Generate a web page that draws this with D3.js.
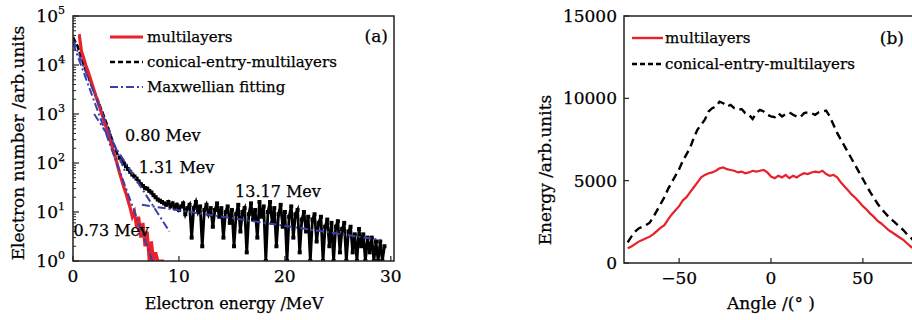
<!DOCTYPE html>
<html>
<head>
<meta charset="utf-8">
<script src="https://cdn.jsdelivr.net/npm/d3@7"></script>
<style>
body { margin: 0; background: #ffffff; overflow: hidden; }
svg { font-family: "DejaVu Serif", serif; }
svg text { stroke: #000; stroke-width: 0.25px; }
</style>
</head>
<body>
<script>
//Data for panel (a): electron spectra, 0.2 MeV bins
var binStep = 0.2;
var conicalStart = 0;
var conicalCounts = [37000, 30000, 25000, 19000, 14000, 10500, 8000, 6200, 4900, 3800,
	2900, 2250, 1750, 1350, 1050, 800, 610, 460, 340, 250,
	190, 150, 128, 112, 98, 86, 75, 66, 58, 53,
	48, 42, 37, 34, 31, 30, 27, 25, 22, 20,
	18, 17, 16, 15, 14, 16, 13, 15, 12, 14,
	11, 13, 15, 9, 12, 14, 3, 12, 16, 10,
	13, 2, 11, 14, 9, 12, 5, 11, 15, 8,
	12, 3, 10, 13, 6, 11, 2, 9, 14, 4,
	10, 12, 1.5, 9, 15, 7, 11, 3, 16, 8,
	13, 1, 10, 16, 6, 12, 2, 9, 14, 5,
	10, 1, 8, 13, 3, 9, 11, 1.5, 7, 10,
	4, 8, 1, 7, 9, 2.5, 6, 8, 1, 5,
	7, 2, 6, 1, 5, 6.5, 1.5, 4.5, 6, 1,
	4, 5, 1.5, 3.5, 1, 4.5, 2, 3.5, 1, 3,
	1.5, 3, 1, 2.5, 1, 2.5, 1, 2];
var markerFrom = 4.4;
var multiStart = 0.6;
var multiCounts = [40000, 19000, 14000, 10000, 7600, 5600, 4100, 3000, 2200, 1650,
	1200, 900, 650, 480, 350, 250, 180, 130, 90, 62,
	45, 32, 24, 17, 12, 8, 10, 5, 8, 3,
	6, 2, 4, 1, 2.5, 1, 1.5, 1, 1, 1, 1];

//Maxwellian fitting lines [energy, counts] end points
var fitLines = [
	[[0, 28000], [7.5, 1]],
	[[0, 33000], [5.0, 60]],
	[[2.0, 1000], [9.1, 4]],
	[[6.5, 14], [29, 2.7]]
];
var fitLabels = [
	{ text: "0.80 Mev", e: 4.9, n: 280 },
	{ text: "1.31 Mev", e: 6.2, n: 62 },
	{ text: "13.17 Mev", e: 15.3, n: 20 },
	{ text: "0.73 Mev", e: 0.05, n: 3.2 }
];
var logTicks = [1, 10, 100, 1000, 10000, 100000];
var energyTicks = [0, 10, 20, 30];

//Data for panel (b): energy vs angle, 2 degree steps
var angleStart = -78;
var angleStep = 2;
var multiEnergy = [900, 1000, 1150, 1300, 1400, 1500, 1600, 1750, 1950, 2150,
	2300, 2650, 2950, 3200, 3450, 3800, 4000, 4300, 4600, 4900,
	5200, 5350, 5450, 5500, 5600, 5750, 5800, 5700, 5650, 5600,
	5500, 5550, 5450, 5500, 5600, 5550, 5600, 5650, 5500, 5250,
	5150, 5300, 5200, 5350, 5150, 5300, 5200, 5350, 5450, 5400,
	5500, 5550, 5500, 5600, 5400, 5300, 5350, 5200, 4900, 4650,
	4400, 4150, 3950, 3700, 3450, 3250, 3000, 2800, 2550, 2400,
	2200, 2000, 1850, 1700, 1550, 1400, 1200, 1000, 850, 700];
var conicalEnergy = [1250, 1600, 1900, 2100, 2200, 2300, 2450, 2800, 3200, 3600,
	4000, 4500, 4900, 5300, 5700, 6200, 6600, 7000, 7600, 8100,
	8400, 8700, 9200, 9400, 9500, 9800, 9700, 9500, 9600, 9400,
	9300, 9350, 9100, 9000, 8750, 9100, 9300, 9200, 9000, 8900,
	8850, 9100, 8900, 9050, 9150, 9000, 8900, 8850, 9100, 9150,
	9100, 9000, 9150, 9200, 9250, 8900, 8400, 7900, 7500, 7100,
	6700, 6300, 5900, 5500, 5100, 4700, 4300, 3950, 3600, 3300,
	3050, 2800, 2600, 2400, 2200, 2000, 1750, 1550, 1300, 1100];
var angleTicks = [-50, 0, 50];
var energyTicksB = [0, 5000, 10000, 15000];

var red = "#e8212b";
var blue = "#3c3fa8";
var frame = "#222222";
var ink = "#000";

var w = 912, h = 320;
var svg = d3.select("body")
	.append("svg")
	.attr("width", w)
	.attr("height", h);

var defs = svg.append("defs");

//---------------- Panel (a) ----------------
var xA = d3.scaleLinear().domain([0, 30.3]).range([73, 394]);
var yA = d3.scaleLog().domain([1, 100000]).range([261, 16]);

defs.append("clipPath").attr("id", "clipA")
	.append("rect")
	.attr("x", xA.range()[0]).attr("y", yA.range()[1])
	.attr("width", xA.range()[1] - xA.range()[0])
	.attr("height", yA.range()[0] - yA.range()[1]);

var pa = svg.append("g");

var lineA = d3.line()
	.x(function(d) { return xA(d[0]); })
	.y(function(d) { return yA(Math.max(d[1], 1)); });

var conicalPts = conicalCounts.map(function(v, i) { return [conicalStart + i * binStep, v]; });
var conicalHead = conicalPts.filter(function(d) { return d[0] <= markerFrom + 0.01; });
var conicalTail = conicalPts.filter(function(d) { return d[0] >= markerFrom - 0.01; });
var multiPts = [[0.5, 40000]].concat(multiCounts.map(function(v, i) { return [multiStart + i * binStep, v]; }));

var plotA = pa.append("g").attr("clip-path", "url(#clipA)");

//black data: dashed steep part, thick solid noisy tail with square markers
plotA.append("path")
	.datum(conicalHead)
	.attr("d", lineA)
	.attr("fill", "none")
	.attr("stroke", "#000")
	.attr("stroke-width", 2.6)
	.attr("stroke-dasharray", "6,2");

plotA.append("path")
	.datum(conicalTail)
	.attr("d", lineA)
	.attr("fill", "none")
	.attr("stroke", "#000")
	.attr("stroke-width", 2.8);

plotA.selectAll(".mk")
	.data(conicalTail)
	.enter()
	.append("rect")
	.attr("x", function(d) { return xA(d[0]) - 2; })
	.attr("y", function(d) { return yA(Math.max(d[1], 1)) - 2; })
	.attr("width", 4)
	.attr("height", 4)
	.attr("fill", "#000");

plotA.append("path")
	.datum(multiPts)
	.attr("d", lineA)
	.attr("fill", "none")
	.attr("stroke", red)
	.attr("stroke-width", 3.2);

plotA.selectAll(".fit")
	.data(fitLines)
	.enter()
	.append("path")
	.attr("class", "fit")
	.attr("d", lineA)
	.attr("fill", "none")
	.attr("stroke", blue)
	.attr("stroke-width", 2)
	.attr("stroke-dasharray", "8,3,2,3");

//frame
pa.append("rect")
	.attr("x", xA.range()[0]).attr("y", yA.range()[1])
	.attr("width", xA.range()[1] - xA.range()[0])
	.attr("height", yA.range()[0] - yA.range()[1])
	.attr("fill", "none")
	.attr("stroke", frame)
	.attr("stroke-width", 1.5);

//y ticks (major and minor, inward)
var minorA = [];
for (var d = 1; d < 100000; d *= 10) {
	for (var m = 2; m < 10; m++) minorA.push(d * m);
}
pa.selectAll(".minorA")
	.data(minorA)
	.enter()
	.append("line")
	.attr("x1", xA.range()[0]).attr("x2", xA.range()[0] + 3)
	.attr("y1", function(d) { return yA(d); })
	.attr("y2", function(d) { return yA(d); })
	.attr("stroke", frame)
	.attr("stroke-width", 1);

pa.selectAll(".majorA")
	.data(logTicks)
	.enter()
	.append("line")
	.attr("x1", xA.range()[0]).attr("x2", xA.range()[0] + 6)
	.attr("y1", function(d) { return yA(d); })
	.attr("y2", function(d) { return yA(d); })
	.attr("stroke", frame)
	.attr("stroke-width", 1.2);

var yLab = pa.selectAll(".ylabA")
	.data(logTicks)
	.enter()
	.append("text")
	.attr("x", 65)
	.attr("y", function(d) { return yA(d) + 6; })
	.attr("text-anchor", "end")
	.style("font-size", "17px")
	.attr("fill", ink);
yLab.append("tspan").text("10");
yLab.append("tspan")
	.attr("dy", -8)
	.style("font-size", "11px")
	.text(function(d) { return Math.round(Math.log10(d)); });

//x ticks
pa.selectAll(".xtA")
	.data(energyTicks)
	.enter()
	.append("line")
	.attr("x1", function(d) { return xA(d); })
	.attr("x2", function(d) { return xA(d); })
	.attr("y1", yA.range()[0]).attr("y2", yA.range()[0] - 5)
	.attr("stroke", frame)
	.attr("stroke-width", 1.2);

pa.selectAll(".xlabA")
	.data(energyTicks)
	.enter()
	.append("text")
	.attr("x", function(d) { return xA(d); })
	.attr("y", 282)
	.attr("text-anchor", "middle")
	.style("font-size", "17px")
	.attr("fill", ink)
	.text(function(d) { return d; });

//axis titles
pa.append("text")
	.attr("x", 234).attr("y", 309)
	.attr("text-anchor", "middle")
	.style("font-size", "16px")
	.attr("fill", ink)
	.text("Electron energy /MeV");

pa.append("text")
	.attr("transform", "translate(24,143) rotate(-90)")
	.attr("text-anchor", "middle")
	.style("font-size", "17px")
	.attr("fill", ink)
	.text("Electron number /arb.units");

//fit labels
pa.selectAll(".fitlab")
	.data(fitLabels)
	.enter()
	.append("text")
	.attr("x", function(d) { return xA(d.e); })
	.attr("y", function(d) { return yA(d.n); })
	.style("font-size", "16px")
	.attr("fill", ink)
	.text(function(d) { return d.text; });

pa.append("text")
	.attr("x", 388).attr("y", 42)
	.attr("text-anchor", "end")
	.style("font-size", "17px")
	.attr("fill", ink)
	.text("(a)");

//legend (a)
var legA = [
	{ name: "multilayers", color: red, dash: null, width: 3 },
	{ name: "conical-entry-multilayers", color: "#000", dash: "5,3", width: 2.5 },
	{ name: "Maxwellian fitting", color: blue, dash: "8,3,2,3", width: 1.8 }
];
var lgA = pa.selectAll(".legA")
	.data(legA)
	.enter()
	.append("g")
	.attr("transform", function(d, i) { return "translate(110," + (37 + i * 25) + ")"; });
lgA.append("line")
	.attr("x1", 0).attr("x2", 33)
	.attr("stroke", function(d) { return d.color; })
	.attr("stroke-width", function(d) { return d.width; })
	.attr("stroke-dasharray", function(d) { return d.dash; });
lgA.append("text")
	.attr("x", 37).attr("y", 5)
	.style("font-size", "15px")
	.attr("fill", ink)
	.text(function(d) { return d.name; });

//---------------- Panel (b) ----------------
var xB = d3.scaleLinear().domain([-80, 80]).range([624, 918]);
var yB = d3.scaleLinear().domain([0, 15000]).range([263, 16]);

defs.append("clipPath").attr("id", "clipB")
	.append("rect")
	.attr("x", xB.range()[0]).attr("y", yB.range()[1])
	.attr("width", xB.range()[1] - xB.range()[0])
	.attr("height", yB.range()[0] - yB.range()[1]);

var pb = svg.append("g");

var lineB = d3.line()
	.x(function(d) { return xB(d[0]); })
	.y(function(d) { return yB(d[1]); });

var plotB = pb.append("g").attr("clip-path", "url(#clipB)");

plotB.append("path")
	.datum(conicalEnergy.map(function(v, i) { return [angleStart + i * angleStep, v]; }))
	.attr("d", lineB)
	.attr("fill", "none")
	.attr("stroke", "#000")
	.attr("stroke-width", 2.4)
	.attr("stroke-dasharray", "8,5");

plotB.append("path")
	.datum(multiEnergy.map(function(v, i) { return [angleStart + i * angleStep, v]; }))
	.attr("d", lineB)
	.attr("fill", "none")
	.attr("stroke", red)
	.attr("stroke-width", 2.2);

pb.append("rect")
	.attr("x", xB.range()[0]).attr("y", yB.range()[1])
	.attr("width", xB.range()[1] - xB.range()[0])
	.attr("height", yB.range()[0] - yB.range()[1])
	.attr("fill", "none")
	.attr("stroke", frame)
	.attr("stroke-width", 1.5);

pb.selectAll(".ytB")
	.data(energyTicksB)
	.enter()
	.append("line")
	.attr("x1", xB.range()[0]).attr("x2", xB.range()[0] + 5)
	.attr("y1", function(d) { return yB(d); })
	.attr("y2", function(d) { return yB(d); })
	.attr("stroke", frame)
	.attr("stroke-width", 1.2);

pb.selectAll(".ylabB")
	.data(energyTicksB)
	.enter()
	.append("text")
	.attr("x", 617)
	.attr("y", function(d) { return yB(d) + 6; })
	.attr("text-anchor", "end")
	.style("font-size", "17px")
	.attr("fill", ink)
	.text(function(d) { return d; });

pb.selectAll(".xtB")
	.data(angleTicks)
	.enter()
	.append("line")
	.attr("x1", function(d) { return xB(d); })
	.attr("x2", function(d) { return xB(d); })
	.attr("y1", yB.range()[0]).attr("y2", yB.range()[0] - 5)
	.attr("stroke", frame)
	.attr("stroke-width", 1.2);

pb.selectAll(".xlabB")
	.data(angleTicks)
	.enter()
	.append("text")
	.attr("x", function(d) { return xB(d); })
	.attr("y", 284)
	.attr("text-anchor", "middle")
	.style("font-size", "17px")
	.attr("fill", ink)
	.text(function(d) { return d < 0 ? "\u2212" + Math.abs(d) : d; });

pb.append("text")
	.attr("x", 771).attr("y", 309)
	.attr("text-anchor", "middle")
	.style("font-size", "17px")
	.attr("fill", ink)
	.text("Angle /(\u00b0 )");

pb.append("text")
	.attr("transform", "translate(551,170) rotate(-90)")
	.attr("text-anchor", "middle")
	.style("font-size", "17px")
	.attr("fill", ink)
	.text("Energy /arb.units");

pb.append("text")
	.attr("x", 904).attr("y", 44)
	.attr("text-anchor", "end")
	.style("font-size", "17px")
	.attr("fill", ink)
	.text("(b)");

var legB = [
	{ name: "multilayers", color: red, dash: null, width: 2.4 },
	{ name: "conical-entry-multilayers", color: "#000", dash: "5,3", width: 2.4 }
];
var lgB = pb.selectAll(".legB")
	.data(legB)
	.enter()
	.append("g")
	.attr("transform", function(d, i) { return "translate(632," + (38 + i * 26) + ")"; });
lgB.append("line")
	.attr("x1", 0).attr("x2", 31)
	.attr("stroke", function(d) { return d.color; })
	.attr("stroke-width", function(d) { return d.width; })
	.attr("stroke-dasharray", function(d) { return d.dash; });
lgB.append("text")
	.attr("x", 33).attr("y", 5)
	.style("font-size", "15px")
	.attr("fill", ink)
	.text(function(d) { return d.name; });
</script>
</body>
</html>
